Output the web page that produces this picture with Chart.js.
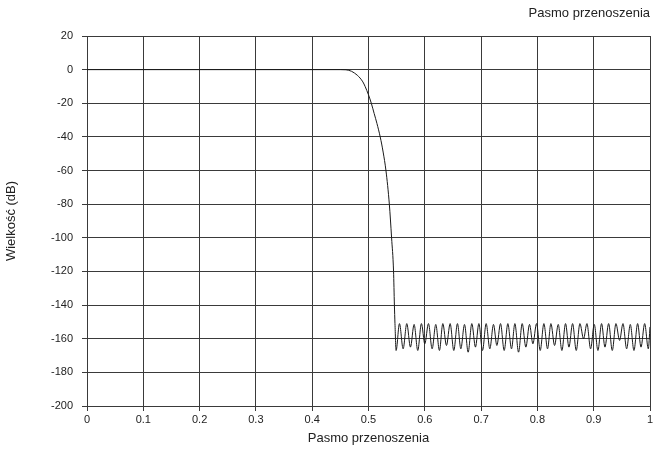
<!DOCTYPE html>
<html>
<head>
<meta charset="utf-8">
<script src="https://cdn.jsdelivr.net/npm/chart.js@4.4.1/dist/chart.umd.min.js"></script>
<style>
  html, body { margin: 0; padding: 0; background: #fff; }
  #wrap { width: 665px; height: 450px; }
</style>
</head>
<body>
<div id="wrap"><canvas id="chart" width="665" height="450"></canvas></div>
<script>
// passband + transition (x, dB)
const passX = [0, 0.45, 0.46, 0.465, 0.47, 0.475, 0.48, 0.485, 0.49, 0.494, 0.5, 0.505, 0.51, 0.515, 0.5208, 0.526, 0.531, 0.537, 0.541, 0.5445, 0.546, 0.547];
const passDb = [0, 0, -0.1, -0.4, -1, -2, -3.3, -5, -7.3, -10, -15, -20, -26, -32, -40, -49, -60, -80, -100, -120, -140, -151];

// stopband ripple: nulls and peaks
const nullX = [0.549, 0.5615, 0.5745, 0.5875, 0.600, 0.613, 0.626, 0.6385, 0.6515, 0.664, 0.677, 0.690, 0.7025, 0.7155, 0.728, 0.741, 0.754, 0.7665, 0.7795, 0.792, 0.805, 0.818, 0.8305, 0.8435, 0.856, 0.869, 0.882, 0.8945, 0.9075, 0.920, 0.933, 0.946, 0.9585, 0.9715, 0.984, 0.997];
const nullDb = [-167, -166, -165, -167, -163, -166, -167, -164, -167, -166, -168, -165, -167, -166, -164, -167, -166, -168, -165, -163, -167, -166, -164, -167, -165, -167, -160, -166, -167, -165, -167, -161, -166, -167, -165, -166];
const peakX = [0.555, 0.568, 0.581, 0.594, 0.6065, 0.6195, 0.632, 0.645, 0.658, 0.6705, 0.6835, 0.696, 0.709, 0.722, 0.7345, 0.7475, 0.760, 0.773, 0.786, 0.7985, 0.8115, 0.824, 0.837, 0.850, 0.8625, 0.8755, 0.888, 0.901, 0.914, 0.9265, 0.9395, 0.952, 0.965, 0.978, 0.9905, 1.0];
const peakDb = [-151, -151, -151.5, -151, -151, -151.5, -151, -151, -151, -151.5, -151, -151, -151, -151.5, -151, -151, -151, -151, -151.5, -151, -151, -151, -151.5, -151, -151, -151, -151, -151.5, -151, -151, -151, -151, -151.5, -151, -151, -153];

const xTickLabels = ['0', '0.1', '0.2', '0.3', '0.4', '0.5', '0.6', '0.7', '0.8', '0.9', '1'];

const passPoints = passX.map((x, i) => ({ x: x, y: passDb[i] }));
const stopPoints = [{ x: passX[passX.length - 1], y: passDb[passDb.length - 1] }];
nullX.forEach((x, i) => {
  stopPoints.push({ x: x, y: nullDb[i] });
  if (i < peakX.length) stopPoints.push({ x: peakX[i], y: peakDb[i] });
});

const font = "'Liberation Sans', Arial, sans-serif";
const gridColor = '#3a3a3a';
const lineColor = '#1a1a1a';

new Chart(document.getElementById('chart'), {
  type: 'scatter',
  data: {
    datasets: [
      {
        data: passPoints,
        showLine: true,
        borderColor: lineColor,
        borderWidth: 1,
        pointRadius: 0,
        cubicInterpolationMode: 'monotone'
      },
      {
        data: stopPoints,
        showLine: true,
        borderColor: lineColor,
        borderWidth: 1,
        pointRadius: 0,
        cubicInterpolationMode: 'monotone'
      }
    ]
  },
  options: {
    responsive: false,
    animation: false,
    layout: { padding: { left: 0, right: 15, top: 0, bottom: 0 } },
    plugins: {
      legend: { display: false },
      tooltip: { enabled: false },
      title: {
        display: true,
        text: 'Pasmo przenoszenia',
        align: 'end',
        color: '#222',
        font: { family: font, size: 13, weight: 'normal' },
        padding: { top: 6, bottom: 14.4 }
      }
    },
    scales: {
      x: {
        type: 'linear',
        min: 0,
        max: 1,
        afterFit: s => { s.height = 44; },
        afterBuildTicks: s => { s.ticks = xTickLabels.map((t, i) => ({ value: i / 10 })); },
        ticks: {
          callback: (v, i) => xTickLabels[i],
          color: '#222',
          font: { family: font, size: 11 },
          maxRotation: 0,
          padding: 2
        },
        grid: { color: gridColor, tickLength: 5 },
        border: { color: gridColor },
        title: {
          display: true,
          text: 'Pasmo przenoszenia',
          color: '#222',
          font: { family: font, size: 13 },
          padding: { top: 2 }
        }
      },
      y: {
        min: -200,
        max: 20,
        afterFit: s => { s.width = 87; },
        ticks: {
          stepSize: 20,
          color: '#222',
          font: { family: font, size: 11 },
          padding: 9
        },
        grid: { color: gridColor, tickLength: 5 },
        border: { color: gridColor },
        title: {
          display: true,
          text: 'Wielkość (dB)',
          color: '#222',
          font: { family: font, size: 13 },
          padding: { bottom: 2 }
        }
      }
    }
  }
});
</script>
</body>
</html>
